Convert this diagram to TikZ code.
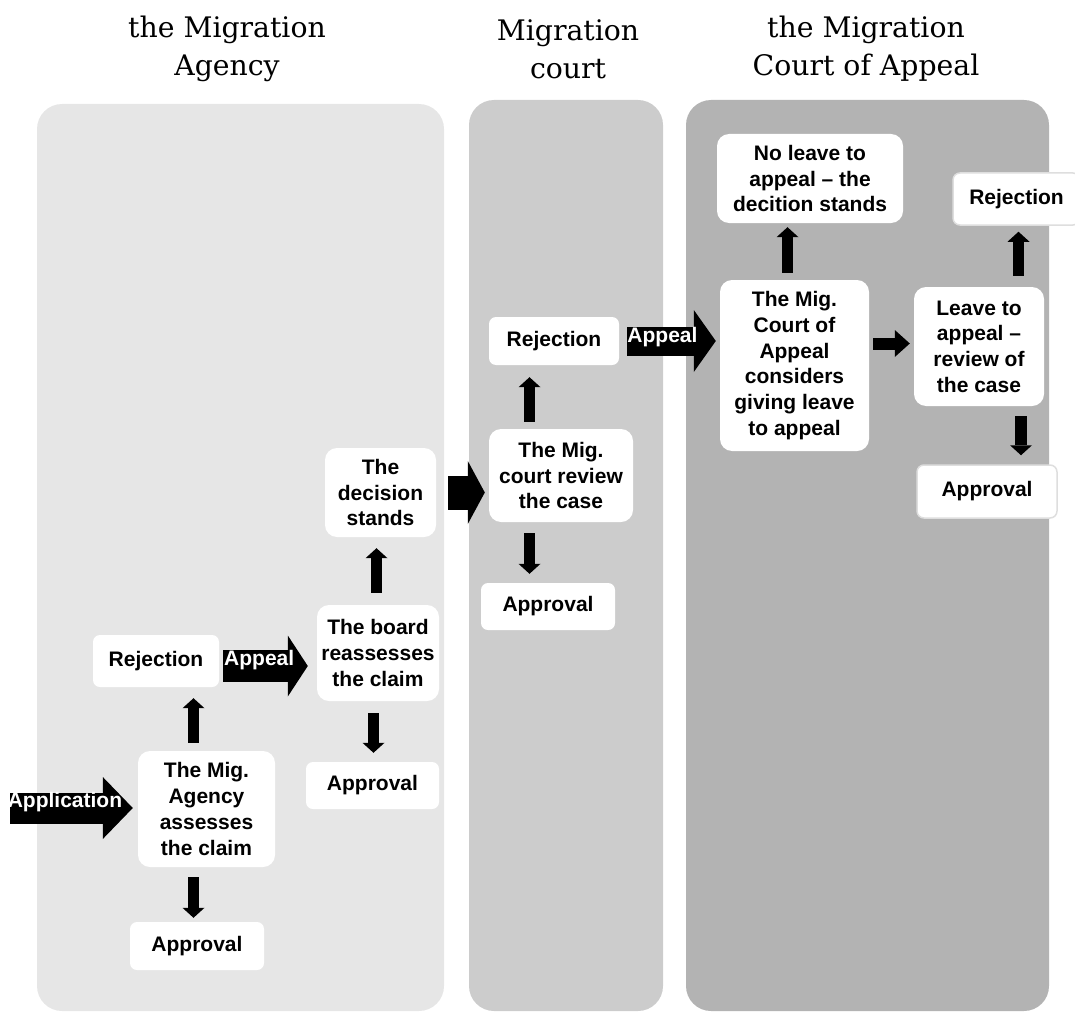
\documentclass[tikz,border=0pt]{standalone}
\usepackage{fontspec}
\usepackage{xcolor}
\usepackage{tikz}
\usetikzlibrary{arrows.meta,positioning}
\newfontfamily\boxfont{Liberation Sans}
\newfontfamily\headfont{DejaVu Serif}
\definecolor{panelA}{HTML}{E6E6E6}
\definecolor{panelB}{HTML}{CCCCCC}
\definecolor{panelC}{HTML}{B3B3B3}

\begin{document}
\begin{tikzpicture}[x=1pt,y=-1pt,
  head/.style={font=\headfont\fontsize{28.3}{38}\selectfont,align=center,inner sep=0pt},
  box/.style={fill=white,rounded corners=12pt,align=center,inner sep=0pt,font=\boxfont\bfseries\fontsize{21}{25.7}\selectfont},
  small/.style={box,rounded corners=7pt},
  edged/.style={small,draw=black!13,line width=1.5pt},
  lbl/.style={text=white,inner sep=0pt,font=\boxfont\bfseries\fontsize{21}{25.7}\selectfont},
  arr/.style={line width=11pt,-{Triangle[length=10pt,width=22pt,line width=0pt]}},
  fat/.style n args={3}{line width=#1pt,-{Triangle[length=#2pt,width=#3pt,line width=0pt]}}]
\useasboundingbox (0,0) rectangle (1075,1011);
\fill[panelA,rounded corners=25pt] (37,104) rectangle (444,1011);
\fill[panelB,rounded corners=25pt] (469,100) rectangle (663,1011);
\fill[panelC,rounded corners=25pt] (686,100) rectangle (1049,1011);

\node[head] (hAgency) at (227,49) {the Migration\\Agency};
\node[head] (hCourt) at (568,49) {Migration\\court};
\node[head] (hCoA) at (866,49) {the Migration\\Court of Appeal};

\node[box,minimum width=137pt,minimum height=116pt] (agency) at (206.5,809) {The Mig.\\Agency\\assesses\\the claim};
\node[small,minimum width=126pt,minimum height=52pt] (rejA) at (156,661) {Rejection};
\node[small,minimum width=134pt,minimum height=48pt] (apprA) at (197,946) {Approval};
\node[box,minimum width=122pt,minimum height=96pt] (board) at (378,653) {The board\\reassesses\\the claim};
\node[small,minimum width=133pt,minimum height=47pt] (apprB) at (372.5,785.5) {Approval};
\node[box,minimum width=111pt,minimum height=89pt] (stands) at (380.5,492.5) {The\\decision\\stands};
\node[box,minimum width=144pt,minimum height=93pt] (court) at (561,475.5) {The Mig.\\court review\\the case};
\node[small,minimum width=130pt,minimum height=48pt] (rejC) at (554,341) {Rejection};
\node[small,minimum width=134pt,minimum height=47pt] (apprC) at (548,606.5) {Approval};
\node[box,minimum width=186pt,minimum height=89pt] (noleave) at (810,178.5) {No leave to\\appeal – the\\decition stands};
\node[box,minimum width=149pt,minimum height=171pt] (coa) at (794.5,365.5) {The Mig.\\Court of\\Appeal\\considers\\giving leave\\to appeal};
\node[box,minimum width=130pt,minimum height=119pt] (leave) at (979,346.5) {Leave to\\appeal –\\review of\\the case};
\node[edged,minimum width=127pt,minimum height=52pt] (rejD) at (1016.5,199) {Rejection};
\node[edged,minimum width=140pt,minimum height=53pt] (apprD) at (987,491.5) {Approval};

\coordinate (start) at (10,808);
\draw[fat={31}{30}{62},shorten >=5pt] (start) -- (start -| agency.west) node[lbl,pos=0.43,yshift=6pt] {Application};
\draw[fat={32}{20}{61},shorten <=4pt,shorten >=9pt] ([yshift=-5pt]rejA.east) -- ([yshift=-5pt]rejA.east -| board.west) node[lbl,pos=0.41,yshift=6pt] {Appeal};
\draw[fat={34}{17}{63},shorten <=12pt,shorten >=4pt] (stands.east) -- (stands.east -| court.west);
\draw[fat={29}{22}{62},shorten <=8pt,shorten >=4pt] (rejC.east) -- (rejC.east -| coa.west) node[lbl,pos=0.43,yshift=3.5pt] {Appeal};
\draw[fat={12}{15}{27},shorten <=4pt,shorten >=4pt] ([yshift=22pt]coa.east) -- ([yshift=22pt]coa.east -| leave.west);

\draw[arr,shorten <=8pt,shorten >=11pt] ([xshift=-13pt]agency.north) -- ([xshift=-13pt]agency.north |- rejA.south);
\draw[arr,shorten <=10pt,shorten >=4pt] ([xshift=-13pt]agency.south) -- ([xshift=-13pt]agency.south |- apprA.north);
\draw[arr,shorten <=12pt,shorten >=11pt] ([xshift=-1.5pt]board.north) -- ([xshift=-1.5pt]board.north |- stands.south);
\draw[arr,shorten <=12pt,shorten >=9pt] ([xshift=-4.5pt]board.south) -- ([xshift=-4.5pt]board.south |- apprB.north);
\draw[arr,shorten <=7pt,shorten >=12pt] ([xshift=-31.5pt]court.north) -- ([xshift=-31.5pt]court.north |- rejC.south);
\draw[arr,shorten <=11pt,shorten >=9pt] ([xshift=-31.5pt]court.south) -- ([xshift=-31.5pt]court.south |- apprC.north);
\draw[arr,shorten <=7pt,shorten >=4pt] ([xshift=-7pt]coa.north) -- ([xshift=-7pt]coa.north |- noleave.south);
\draw[arr,shorten <=11pt,shorten >=6pt] ([xshift=39.5pt]leave.north) -- ([xshift=39.5pt]leave.north |- rejD.south);
\draw[arr,line width=12pt,shorten <=10pt,shorten >=9pt] ([xshift=42pt]leave.south) -- ([xshift=42pt]leave.south |- apprD.north);
\end{tikzpicture}
\end{document}
